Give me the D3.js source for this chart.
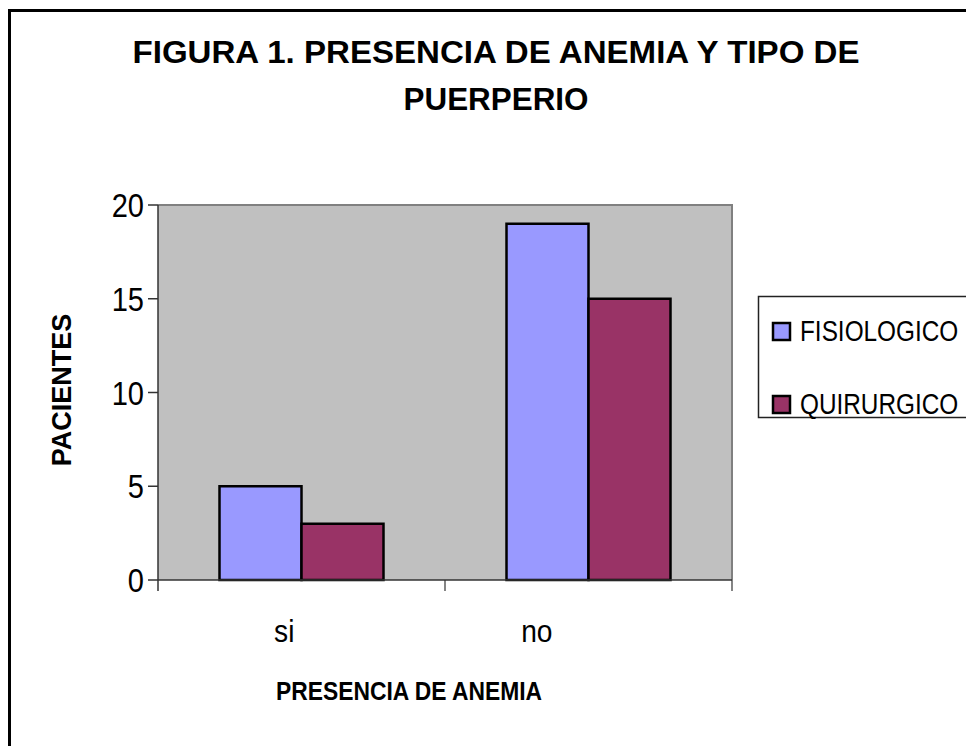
<!DOCTYPE html>
<html>
<head>
<meta charset="utf-8">
<script src="https://cdn.jsdelivr.net/npm/d3@7"></script>
<style>
  body { margin: 0; background: #fff; }
  text { font-family: Arial, "Liberation Sans", sans-serif; fill: #000; }
</style>
</head>
<body>
<div id="chart"></div>
<script>
// data
var categories = ["si", "no"];
var seriesNames = ["FISIOLOGICO", "QUIRURGICO"];
var fisiologico = [5, 19];
var quirurgico = [3, 15];
var yTicks = [0, 5, 10, 15, 20];
var seriesColors = ["#9999ff", "#993366"];
var titleLines = ["FIGURA 1. PRESENCIA DE ANEMIA Y TIPO DE", "PUERPERIO"];

var width = 966, height = 746;
var plot = {left: 158, right: 732, top: 205, bottom: 580};
// text in the original is squeezed sideways
var squeeze = 0.88;

var svg = d3.select("#chart").append("svg")
    .attr("width", width)
    .attr("height", height);

// outer frame
svg.append("rect")
    .attr("x", 9.5).attr("y", 10.5)
    .attr("width", 1000).attr("height", 800)
    .style("fill", "none")
    .style("stroke", "#000")
    .style("stroke-width", 3);

function squeezedText(x, y, str, size, weight, anchor) {
  var g = svg.append("g")
      .attr("transform", "translate(" + x + "," + y + ") scale(" + squeeze + ",1)");
  g.append("text")
      .attr("text-anchor", anchor || "middle")
      .style("font-size", size + "px")
      .style("font-weight", weight || "normal")
      .text(str);
  return g;
}

// title, stretched to the widths seen in the original
var titleWidths = [727, 185];
svg.append("g")
    .selectAll("text")
    .data(titleLines)
    .enter()
    .append("text")
    .attr("x", function(d, i) { return 496 - titleWidths[i] / 2; })
    .attr("y", function(d, i) { return 63 + i * 47; })
    .attr("textLength", function(d, i) { return titleWidths[i]; })
    .attr("lengthAdjust", "spacingAndGlyphs")
    .style("font-size", "32px")
    .style("font-weight", "bold")
    .text(function(d) { return d; });

var x0 = d3.scaleBand()
    .domain(categories)
    .range([plot.left, plot.right])
    .paddingInner(0)
    .paddingOuter(0);

var x1 = d3.scaleBand()
    .domain(seriesNames)
    .range([0, x0.bandwidth()])
    .paddingOuter(0.75)
    .paddingInner(0);

var y = d3.scaleLinear()
    .domain([0, 20])
    .range([plot.bottom, plot.top]);

// plot background
svg.append("rect")
    .attr("x", plot.left).attr("y", plot.top)
    .attr("width", plot.right - plot.left)
    .attr("height", plot.bottom - plot.top)
    .style("fill", "#c0c0c0")
    .style("stroke", "none");

svg.append("path")
    .attr("d", "M" + plot.left + "," + plot.top + "H" + plot.right + "V" + plot.bottom)
    .style("fill", "none")
    .style("stroke", "#808080")
    .style("stroke-width", 2);

// bars
var rows = [];
categories.forEach(function(c, i) {
  rows.push({cat: c, series: seriesNames[0], value: fisiologico[i], color: seriesColors[0]});
  rows.push({cat: c, series: seriesNames[1], value: quirurgico[i], color: seriesColors[1]});
});

svg.append("g")
    .selectAll("rect")
    .data(rows)
    .enter()
    .append("rect")
    .attr("x", function(d) { return x0(d.cat) + x1(d.series); })
    .attr("y", function(d) { return y(d.value); })
    .attr("width", x1.bandwidth())
    .attr("height", function(d) { return y(0) - y(d.value); })
    .style("fill", function(d) { return d.color; })
    .style("stroke", "#000")
    .style("stroke-width", 2.5);

// y axis
svg.append("line")
    .attr("x1", plot.left).attr("x2", plot.left)
    .attr("y1", plot.top).attr("y2", plot.bottom + 11)
    .style("stroke", "#333").style("stroke-width", 1.5);

svg.append("g")
    .selectAll("line")
    .data(yTicks)
    .enter()
    .append("line")
    .attr("x1", plot.left - 10).attr("x2", plot.left)
    .attr("y1", function(d) { return y(d); })
    .attr("y2", function(d) { return y(d); })
    .style("stroke", "#333").style("stroke-width", 1.5);

yTicks.forEach(function(t) {
  squeezedText(plot.left - 14, y(t) + 12, t, 33, "normal", "end");
});

// x axis
svg.append("line")
    .attr("x1", plot.left).attr("x2", plot.right)
    .attr("y1", plot.bottom).attr("y2", plot.bottom)
    .style("stroke", "#333").style("stroke-width", 1.5);

var xTickPos = categories.map(function(c) { return x0(c) + x0.bandwidth(); });
svg.append("g")
    .selectAll("line")
    .data(xTickPos)
    .enter()
    .append("line")
    .attr("x1", function(d) { return d; })
    .attr("x2", function(d) { return d; })
    .attr("y1", plot.bottom).attr("y2", plot.bottom + 11)
    .style("stroke", "#333").style("stroke-width", 1.2);

categories.forEach(function(c) {
  var cx = plot.left + (x0(c) + x0.bandwidth() / 2 - plot.left) * squeeze;
  squeezedText(cx, 642, c, 32);
});

// axis titles
svg.append("text")
    .attr("x", 276).attr("y", 700)
    .attr("textLength", 266)
    .attr("lengthAdjust", "spacingAndGlyphs")
    .style("font-size", "25px")
    .style("font-weight", "bold")
    .text("PRESENCIA DE ANEMIA");

svg.append("text")
    .attr("transform", "translate(71,390) rotate(-90)")
    .attr("text-anchor", "middle")
    .style("font-size", "27px")
    .style("font-weight", "bold")
    .text("PACIENTES");

// legend
svg.append("rect")
    .attr("x", 758.5).attr("y", 296.5)
    .attr("width", 300).attr("height", 121)
    .style("fill", "#fff")
    .style("stroke", "#222")
    .style("stroke-width", 1.5);

var legend = svg.append("g")
    .selectAll("g")
    .data(seriesNames)
    .enter()
    .append("g")
    .attr("transform", function(d, i) { return "translate(773," + (323 + i * 73) + ")"; });

legend.append("rect")
    .attr("width", 17).attr("height", 17)
    .style("fill", function(d, i) { return seriesColors[i]; })
    .style("stroke", "#000")
    .style("stroke-width", 2.5);

legend.append("text")
    .attr("transform", "translate(27,18) scale(0.84,1)")
    .style("font-size", "29px")
    .text(function(d) { return d; });
</script>
</body>
</html>
